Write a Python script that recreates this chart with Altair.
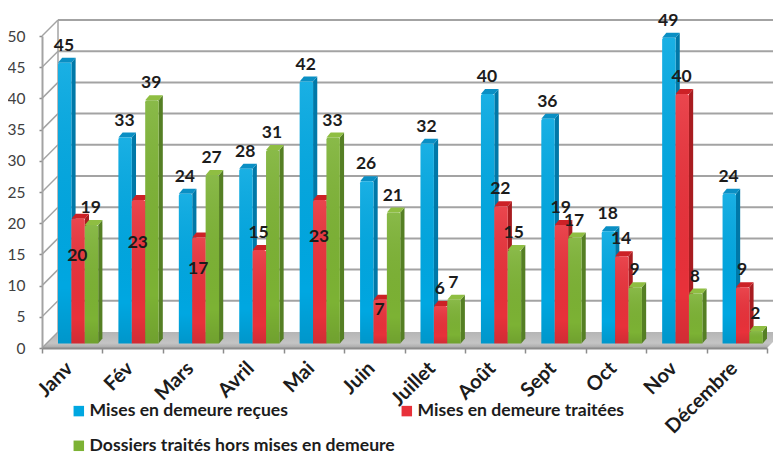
import altair as alt
import pandas as pd

months = ["Janv", "Fév", "Mars", "Avril", "Mai", "Juin", "Juillet", "Août", "Sept", "Oct", "Nov", "Décembre"]
series = ["Mises en demeure reçues", "Mises en demeure traitées", "Dossiers traités hors mises en demeure"]
recues = [45, 33, 24, 28, 42, 26, 32, 40, 36, 18, 49, 24]
traitees = [20, 23, 17, 15, 23, 7, 6, 22, 19, 14, 40, 9]
hors = [19, 39, 27, 31, 33, 21, 7, 15, 17, 9, 8, 2]
front_colors = ["#00A7E1", "#E8313A", "#7CB234"]
side_colors = ["#0078A8", "#A81C20", "#557F24"]
cap_colors = ["#0A8FC4", "#CC2126", "#8FBE42"]
# levels for the red labels that sit inside or beside the bars
red_label_levels = {"Janv": 14.7, "Fév": 16.8, "Mars": 12.7, "Mai": 17.8, "Juin": 6.1}

W, H = 725, 312
band_px = W / 12
unit_px = H / 50
wall_dx, wall_dy = 16 / band_px, 16 / unit_px
bar_dx, bar_dy = 4.2 / band_px, 5 / unit_px
bar_w, bar_start = 13.4 / band_px, 16 / band_px
base = 4.5 / unit_px
font = "Lato"

rows, side, cap, labels = [], [], [], []
for s, (name, vals) in enumerate(zip(series, [recues, traitees, hors])):
    for m, (month, v) in enumerate(zip(months, vals)):
        x0 = m + bar_start + s * bar_w
        x1 = x0 + bar_w
        top = base + v
        rows.append(dict(series=name, month=month, x0=x0, x1=x1, y0=base, y1=top))
        side += [dict(s=s, bar=m, x=x1, y=top, y2=base),
                 dict(s=s, bar=m, x=x1 + bar_dx, y=top + bar_dy, y2=base + bar_dy)]
        cap += [dict(s=s, bar=m, y=top, x=x0, x2=x1),
                dict(s=s, bar=m, y=top + bar_dy, x=x0 + bar_dx, x2=x1 + bar_dx)]
        level = top + bar_dy + 1.9
        if s == 1 and month in red_label_levels:
            level = red_label_levels[month]
        labels.append(dict(value=v, x=(x0 + x1) / 2 - 0.012, y=level))
rows = pd.DataFrame(rows)
side = pd.DataFrame(side)
cap = pd.DataFrame(cap)
labels = pd.DataFrame(labels)

xq = alt.X("x:Q", scale=alt.Scale(domain=[0, 12]), axis=None)
yq = alt.Y("y:Q", scale=alt.Scale(domain=[0, 50], nice=False), axis=None)

# month axis
month_axis = alt.Chart(pd.DataFrame({"month": months})).mark_rect(opacity=0).encode(
    x=alt.X("month:N", sort=months, title=None,
            scale=alt.Scale(paddingInner=0, paddingOuter=0),
            axis=alt.Axis(labelAngle=-45, labelAlign="right", labelBaseline="middle", labelFont=font,
                          labelFontSize=20, labelFontWeight="bold", labelColor="#1c1c1c", labelPadding=12,
                          labelOffset=-3,
                          tickBand="extent", tickColor="#8C8C8C", tickSize=5, tickWidth=1.5,
                          domainColor="#8C8C8C", domainWidth=2, labelOverlap=False, labelBound=False,
                          labelLimit=200, grid=False))
)

# walls
levels = list(range(0, 51, 5))
back_grid = alt.Chart(pd.DataFrame(
    [dict(l=l, x=wall_dx, y=l + wall_dy) for l in levels if l > 0] +
    [dict(l=l, x=12 + wall_dx, y=l + wall_dy) for l in levels if l > 0])
).mark_line(color="#A3A3A3", strokeWidth=2).encode(x=xq, y=yq, detail="l:N")
diagonals = alt.Chart(pd.DataFrame(
    [dict(l=l, x=0, y=l) for l in levels] + [dict(l=l, x=wall_dx, y=l + wall_dy) for l in levels])
).mark_line(color="#A3A3A3", strokeWidth=1.5).encode(x=xq, y=yq, detail="l:N")
back_edge = alt.Chart(pd.DataFrame([dict(x=wall_dx, y=wall_dy), dict(x=wall_dx, y=50 + wall_dy)])).mark_line(
    color="#A3A3A3", strokeWidth=1.5).encode(x=xq, y=yq)
floor = alt.Chart(pd.DataFrame([dict(y=0, x=0, x2=12), dict(y=wall_dy, x=wall_dx, x2=12 + wall_dx)])).mark_area(
    orient="horizontal",
    color=alt.Gradient(gradient="linear", x1=0, x2=0, y1=0, y2=1,
                       stops=[alt.GradientStop(offset=0, color="#B5B5B5"),
                              alt.GradientStop(offset=0.7, color="#C4C4C4"),
                              alt.GradientStop(offset=1, color="#A8A8A8")])
).encode(y=yq, x=xq, x2="x2:Q")

# y axis
y_axis = alt.Chart(pd.DataFrame({"y": [0, 50], "x": [0, 0]})).mark_line(opacity=0).encode(
    x=xq,
    y=alt.Y("y:Q", scale=alt.Scale(domain=[0, 50], nice=False), title=None,
            axis=alt.Axis(values=levels, labelFont=font, labelFontSize=15.5, labelColor="#404040",
                          labelPadding=14, tickSize=3, tickColor="#8C8C8C", tickWidth=1.5,
                          domainColor="#A3A3A3", domainWidth=2, grid=False)))

# 3D faces
side_layers = [alt.Chart(side[side.s == i]).mark_area(orient="vertical", color=side_colors[i]).encode(
    x=xq, y=yq, y2="y2:Q", detail="bar:N") for i in range(3)]
cap_layers = [alt.Chart(cap[cap.s == i]).mark_area(orient="horizontal", color=cap_colors[i]).encode(
    y=yq, x=xq, x2="x2:Q", detail="bar:N") for i in range(3)]

front = alt.Chart(rows).mark_bar(cornerRadiusTopLeft=2, cornerRadiusTopRight=2).encode(
    x=alt.X("x0:Q", scale=alt.Scale(domain=[0, 12]), axis=None), x2="x1:Q",
    y=alt.Y("y0:Q", scale=alt.Scale(domain=[0, 50], nice=False), axis=None), y2="y1:Q",
    color=alt.Color("series:N", sort=series,
                    scale=alt.Scale(domain=series, range=front_colors),
                    legend=alt.Legend(title=None, orient="none", legendX=28, legendY=366, columns=2,
                                      direction="horizontal",
                                      symbolType="square", symbolSize=110, symbolStrokeWidth=0,
                                      labelFont=font, labelFontSize=17.6, labelFontWeight="bold",
                                      labelColor="#1c1c1c", labelLimit=400, labelOffset=2, rowPadding=16,
                                      columnPadding=3, symbolOpacity=1)))
sheen = alt.Chart(rows).mark_bar(
    cornerRadiusTopLeft=2, cornerRadiusTopRight=2,
    color=alt.Gradient(gradient="linear", x1=0, x2=0, y1=0, y2=1,
                       stops=[alt.GradientStop(offset=0, color="rgba(255,255,255,0.10)"),
                              alt.GradientStop(offset=0.8, color="rgba(0,0,0,0)"),
                              alt.GradientStop(offset=1, color="rgba(0,0,0,0.10)")])
).encode(
    x=alt.X("x0:Q", scale=alt.Scale(domain=[0, 12]), axis=None), x2="x1:Q",
    y=alt.Y("y0:Q", scale=alt.Scale(domain=[0, 50], nice=False), axis=None), y2="y1:Q")

text = alt.Chart(labels).mark_text(font=font, fontSize=17.5, fontWeight="bold", color="#1c1c1c",
                                   baseline="middle", align="center").encode(
    x=xq, y=yq, text="value:Q")

chart = alt.layer(
    month_axis, floor, back_grid, diagonals, back_edge, y_axis,
    *side_layers, *cap_layers, front, sheen, text
).resolve_scale(x="independent").resolve_axis(x="independent", y="independent").properties(
    width=W, height=H,
    autosize=alt.AutoSizeParams(type="none"),
    padding={"left": 34, "top": 28, "right": 6, "bottom": 105},
    background="white"
).configure_view(stroke=None)

chart.save("out.html", embed_options={"renderer": "svg", "actions": False})
